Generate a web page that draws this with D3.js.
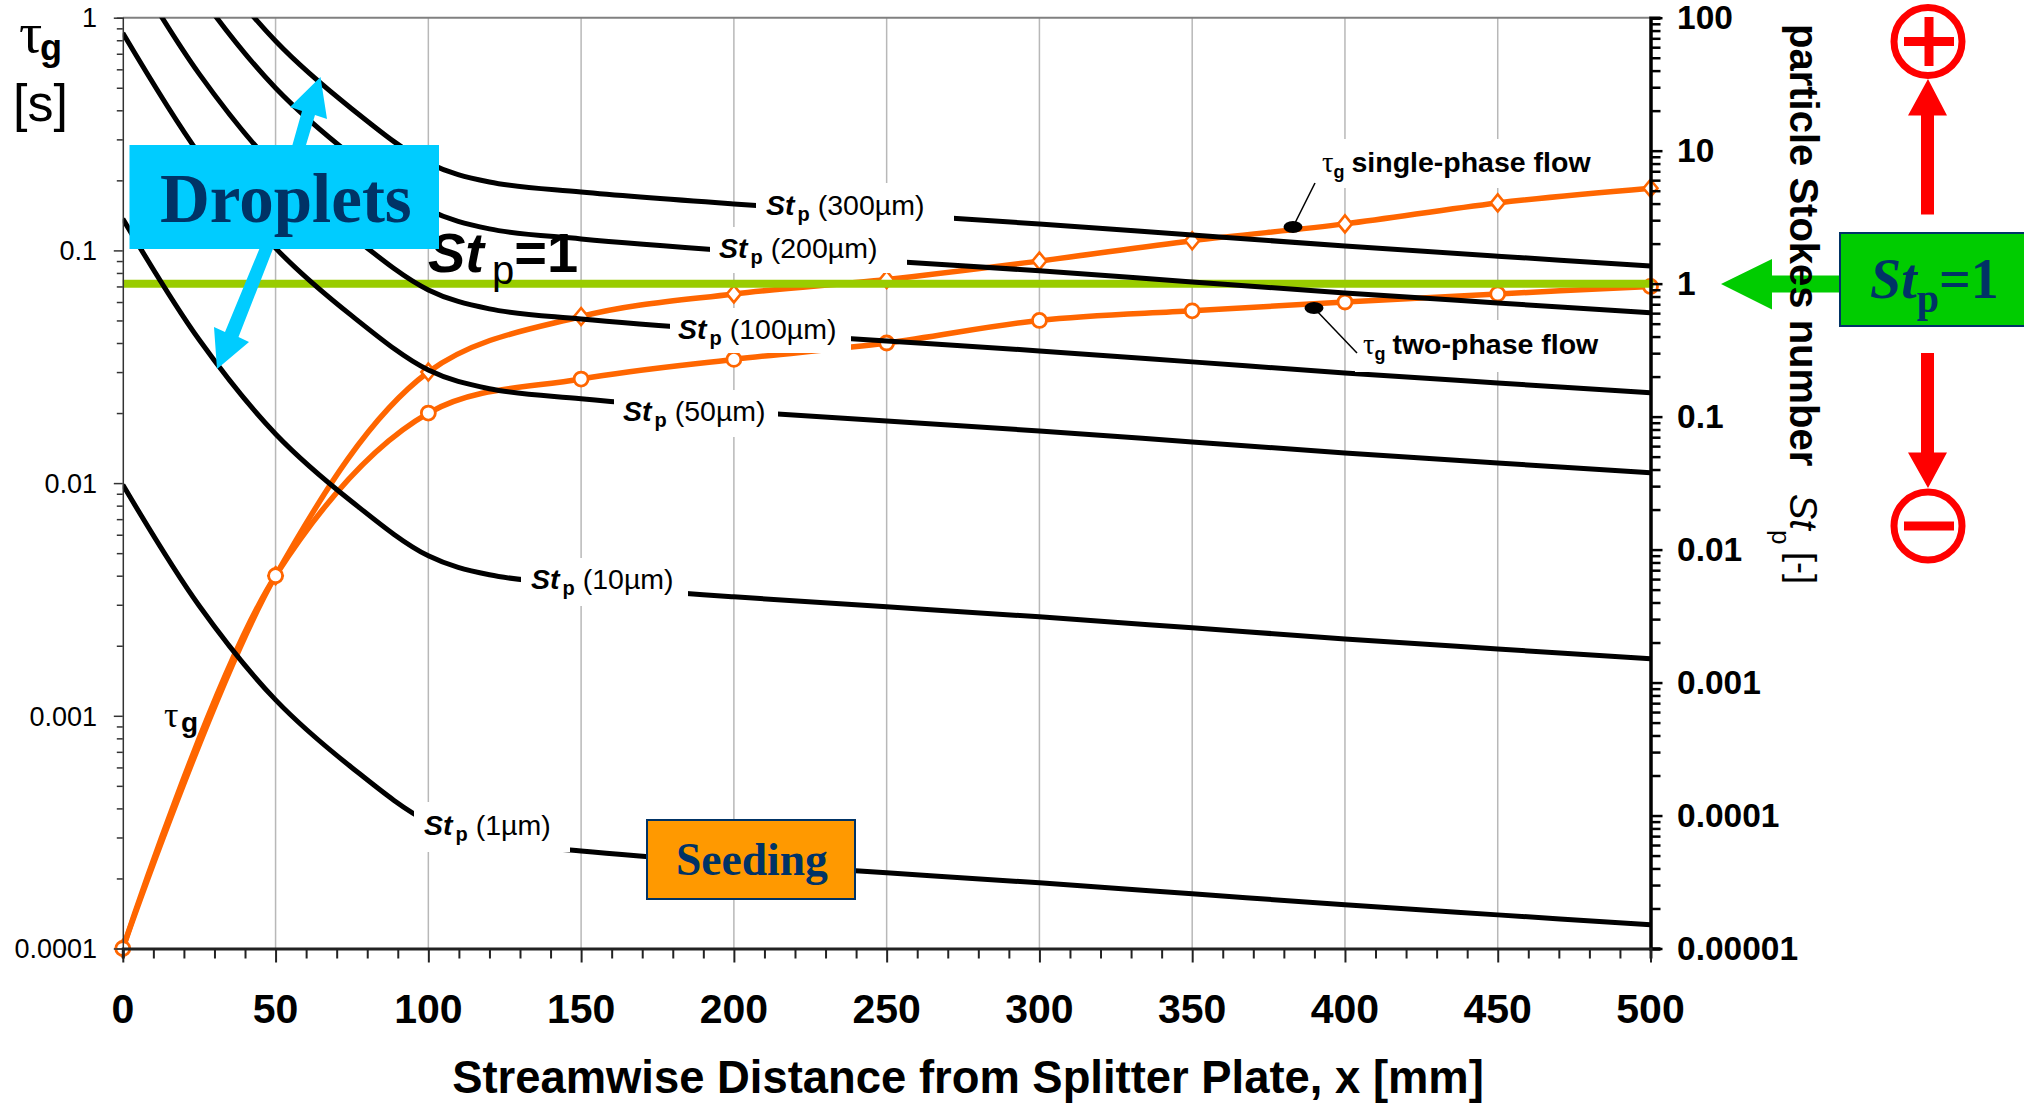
<!DOCTYPE html>
<html>
<head>
<meta charset="utf-8">
<script src="https://cdn.jsdelivr.net/npm/d3@7"></script>
<style>
  html, body { margin:0; padding:0; background:#fff; }
  svg { display:block; }
  text { font-family:"Liberation Sans", Arial, sans-serif; fill:#000; }
  .serif { font-family:"Liberation Serif", "Times New Roman", serif; }
</style>
</head>
<body>
<div id="chart"></div>
<script>
// values
var stX = [0,25,50,75,100,120,150,200,250,300,350,400,450,500];
var st1 = [0.0307,0.00378,0.000741,0.000229,0.0000897,0.0000646,0.0000542,0.0000441,0.0000371,0.0000312,0.0000258,0.0000213,0.0000179,0.0000151];
var st10 = [3.07,0.378,0.0741,0.0229,0.00897,0.00646,0.00542,0.00441,0.00371,0.00312,0.00258,0.00213,0.00179,0.00151];
var st50 = [76.8,9.45,1.85,0.572,0.224,0.162,0.136,0.110,0.0928,0.078,0.0645,0.0533,0.0448,0.0378];
var st100 = [307,37.8,7.41,2.29,0.897,0.646,0.542,0.441,0.371,0.312,0.258,0.213,0.179,0.151];
var st200 = [1228,151,29.6,9.15,3.59,2.58,2.17,1.76,1.48,1.25,1.03,0.852,0.716,0.604];
var st300 = [2763,340,66.7,20.6,8.07,5.81,4.88,3.97,3.34,2.81,2.32,1.92,1.61,1.36];

var tauX = [0,50,100,150,200,250,300,350,400,450,500];
var tauSingle = [0.0001,0.004,0.03,0.052,0.065,0.075,0.09,0.11,0.13,0.16,0.185];
var tauTwo = [0.0001,0.004,0.02,0.028,0.034,0.04,0.05,0.055,0.06,0.065,0.07];

var xTicks = [0,50,100,150,200,250,300,350,400,450,500];
var leftTicks = [1,0.1,0.01,0.001,0.0001];
var rightTicks = [100,10,1,0.1,0.01,0.001,0.0001,0.00001];

var X0 = 122.8, X1 = 1650.5, Y0 = 948.5, Y1 = 17.7;

var x = d3.scaleLinear().domain([0,500]).range([X0,X1]);
var yTau = d3.scaleLog().domain([0.0001,1]).range([Y0,Y1]);
var ySt = d3.scaleLog().domain([0.00001,100]).range([Y0,Y1]);

var svg = d3.select('#chart').append('svg').attr('width',2024).attr('height',1103);

svg.append('defs').append('clipPath').attr('id','plot')
  .append('rect').attr('x',X0).attr('y',Y1).attr('width',X1-X0).attr('height',Y0-Y1);

// grid
svg.append('g').selectAll('line').data(xTicks.slice(1,-1)).enter().append('line')
  .attr('x1',function(d){ return x(d); }).attr('x2',function(d){ return x(d); })
  .attr('y1',Y1).attr('y2',Y0)
  .attr('stroke','#b8b8b8').attr('stroke-width',1.5);
svg.append('line').attr('x1',X0).attr('x2',X1).attr('y1',Y1).attr('y2',Y1)
  .attr('stroke','#808080').attr('stroke-width',2);

// tau lines and markers
var tauLine = d3.line().curve(d3.curveCatmullRom.alpha(0.5));
function tauPts(vals){ return vals.map(function(v,i){ return [x(tauX[i]), yTau(v)]; }); }

[tauSingle,tauTwo].forEach(function(vals){
  svg.append('path').attr('d',tauLine(tauPts(vals)))
    .attr('fill','none').attr('stroke','#ff6600').attr('stroke-width',5.5);
});
svg.append('g').selectAll('path').data(tauPts(tauSingle)).enter().append('path')
  .attr('d','M0,-8.5L7,0L0,8.5L-7,0Z')
  .attr('transform',function(d){ return 'translate('+d[0]+','+d[1]+')'; })
  .attr('fill','#fff').attr('stroke','#ff6600').attr('stroke-width',2.6);
svg.append('g').selectAll('circle').data(tauPts(tauTwo)).enter().append('circle')
  .attr('cx',function(d){ return d[0]; }).attr('cy',function(d){ return d[1]; })
  .attr('r',7)
  .attr('fill','#fff').attr('stroke','#ff6600').attr('stroke-width',2.8);

// St=1 line
svg.append('line').attr('x1',X0).attr('x2',X1+3).attr('y1',ySt(1)).attr('y2',ySt(1))
  .attr('stroke','#99cc00').attr('stroke-width',8);

// St curves
var stLine = d3.line()
  .x(function(d){ return x(d[0]); })
  .y(function(d){ return ySt(d[1]); })
  .curve(d3.curveCatmullRom.alpha(0.5));
var stSeries = [st1,st10,st50,st100,st200,st300];
var stG = svg.append('g').attr('clip-path','url(#plot)');
stSeries.forEach(function(vals){
  stG.append('path').attr('d',stLine(vals.map(function(v,i){ return [stX[i],v]; })))
    .attr('fill','none').attr('stroke','#000').attr('stroke-width',5);
});

// axes
function minorTicks(lo,hi){
  var out = [];
  for(var e=lo;e<hi;e++){
    for(var m=1;m<10;m++){ out.push(m*Math.pow(10,e)); }
  }
  out.push(Math.pow(10,hi));
  return out;
}
function tidy(g,color,w){
  g.select('.domain').attr('stroke',color).attr('stroke-width',w);
  g.selectAll('.tick line').attr('stroke',color).attr('stroke-width',Math.max(1.5,w-1));
}

var gLeft = svg.append('g').attr('transform','translate('+X0+',0)')
  .call(d3.axisLeft(yTau).tickValues(minorTicks(-4,0)).tickSize(6).tickFormat(''));
tidy(gLeft,'#333',1.5);
gLeft.selectAll('.tick line').attr('x2',function(d){ return leftTicks.indexOf(d)>=0 ? -9 : -6; });
svg.append('g').selectAll('text').data(leftTicks).enter().append('text')
  .attr('x',97).attr('y',function(d){ return yTau(d); }).attr('dy','0.36em')
  .attr('text-anchor','end').attr('font-size',27)
  .text(function(d){ return d; });

var gRight = svg.append('g').attr('transform','translate('+X1+',0)')
  .call(d3.axisRight(ySt).tickValues(minorTicks(-5,2)).tickSize(10).tickFormat(''));
tidy(gRight,'#000',3.5);
gRight.selectAll('.tick line').attr('stroke-width',2.5)
  .attr('x2',function(d){ return rightTicks.indexOf(d)>=0 ? 12 : 10; });
svg.append('g').selectAll('text').data(rightTicks).enter().append('text')
  .attr('x',1677).attr('y',function(d){ return ySt(d)-1; }).attr('dy','0.36em')
  .attr('font-size',33.5).attr('font-weight','bold')
  .text(function(d){ return d === 0.00001 ? '0.00001' : d; });

var minorX = d3.range(0,501,10);
var gBottom = svg.append('g').attr('transform','translate(0,'+Y0+')')
  .call(d3.axisBottom(x).tickValues(minorX).tickSize(10).tickFormat(''));
tidy(gBottom,'#222',3);
gBottom.selectAll('.tick line').attr('stroke-width',2)
  .attr('y2',function(d){ return d%50===0 ? 14 : 10; });
svg.append('g').selectAll('text').data(xTicks).enter().append('text')
  .attr('x',function(d){ return x(d); }).attr('y',1023)
  .attr('text-anchor','middle').attr('font-size',41).attr('font-weight','bold')
  .text(function(d){ return d; });

svg.append('text').attr('x',968).attr('y',1093).attr('text-anchor','middle')
  .attr('font-size',45.4).attr('font-weight','bold')
  .text('Streamwise Distance from Splitter Plate, x [mm]');

// left axis title
svg.append('text').attr('class','serif').attr('x',19).attr('y',52).attr('font-size',58).text('τ');
svg.append('text').attr('x',40).attr('y',60).attr('font-size',36).attr('font-weight','bold').text('g');
svg.append('text').attr('x',13).attr('y',121).attr('font-size',52).text('[s]');

// right axis title
function rotText(px,py,str,size,weight,style){
  return svg.append('text').attr('transform','translate('+px+','+py+') rotate(90)')
    .attr('font-size',size).attr('font-weight',weight||'normal').attr('font-style',style||'normal')
    .text(str);
}

// green arrow sits under the rotated title
svg.append('path').attr('d','M1721,284L1772,259L1772,275.5L1842,275.5L1842,292.5L1772,292.5L1772,309.5Z')
  .attr('fill','#00cc00');

rotText(1790,24,'particle Stokes number',40,'bold');
rotText(1790,494,'St',38,'normal','italic');
rotText(1772,530,'p',26);
rotText(1790,552,'[-]',36);

// curve labels with the white box behind them
var stLabels = ['300µm','200µm','100µm','50µm','10µm','1µm'];
var labelBoxes = [
  [756,183,198,47,766,215],
  [710,227,197,46,719,258],
  [670,308,181,45,678,339],
  [614,390,164,47,623,421],
  [521,558,167,48,531,589],
  [414,802,156,50,424,835]
];
stLabels.forEach(function(name,i){
  var b = labelBoxes[i];
  svg.append('rect').attr('x',b[0]).attr('y',b[1]).attr('width',b[2]).attr('height',b[3]).attr('fill','#fff');
  var t = svg.append('text').attr('x',b[4]).attr('y',b[5]).attr('font-size',28.5);
  t.append('tspan').attr('font-weight','bold').attr('font-style','italic').text('St');
  t.append('tspan').attr('dx',3).attr('dy',6).attr('font-size',20).attr('font-weight','bold').text('p');
  t.append('tspan').attr('dx',8).attr('dy',-6).text('('+name+')');
});

// tau flow labels with leader lines
function flowLabel(box,tx,ty,str,lead,dot){
  svg.append('rect').attr('x',box[0]).attr('y',box[1]).attr('width',box[2]).attr('height',box[3]).attr('fill','#fff');
  svg.append('line').attr('x1',lead[0]).attr('y1',lead[1]).attr('x2',dot[0]).attr('y2',dot[1])
    .attr('stroke','#000').attr('stroke-width',1.5);
  svg.append('ellipse').attr('cx',dot[0]).attr('cy',dot[1]).attr('rx',9.5).attr('ry',6).attr('fill','#000');
  var t = svg.append('text').attr('x',tx).attr('y',ty).attr('font-size',28.5).attr('font-weight','bold');
  t.append('tspan').attr('class','serif').attr('font-weight','normal').text('τ');
  t.append('tspan').attr('dy',6).attr('font-size',18).text('g');
  t.append('tspan').attr('dx',7).attr('dy',-6).text(str);
}
flowLabel([1310,139,290,49],1322,172,'single-phase flow',[1315,183],[1293,227]);
flowLabel([1355,320,250,52],1363,354,'two-phase flow',[1357,353],[1314,308]);

// tau label in the plot
svg.append('text').attr('class','serif').attr('x',164).attr('y',727).attr('font-size',36).text('τ');
svg.append('text').attr('x',181).attr('y',732).attr('font-size',28).attr('font-weight','bold').text('g');

// St=1 above the line
var stp = svg.append('text').attr('x',428).attr('y',272).attr('font-size',56).attr('font-weight','bold');
stp.append('tspan').attr('font-style','italic').text('St');
stp.append('tspan').attr('dx',8).attr('dy',12).attr('font-size',40).attr('font-weight','normal').text('p');
stp.append('tspan').attr('dy',-12).text('=1');

// droplets arrows and box
svg.append('path').attr('d','M320.5,77L327,119L315,115L304.5,150L291,150L302,111L290,107Z').attr('fill','#00ccff');
svg.append('path').attr('d','M261,245L274.5,245L238.5,337L249,342L217,369L214,327L225,332Z').attr('fill','#00ccff');
svg.append('rect').attr('x',129.5).attr('y',145).attr('width',309.5).attr('height',104).attr('fill','#00ccff');
svg.append('text').attr('class','serif').attr('x',160).attr('y',222)
  .attr('font-size',69).attr('font-weight','bold').style('fill','#003366').text('Droplets');

// seeding box
svg.append('rect').attr('x',647).attr('y',820).attr('width',208).attr('height',79)
  .attr('fill','#ff9900').attr('stroke','#003366').attr('stroke-width',2);
svg.append('text').attr('class','serif').attr('x',676).attr('y',875)
  .attr('font-size',45.5).attr('font-weight','bold').style('fill','#003366').text('Seeding');

// St=1 green box
svg.append('rect').attr('x',1840).attr('y',233).attr('width',190).attr('height',93)
  .attr('fill','#00cc00').attr('stroke','#003366').attr('stroke-width',2);
var gb = svg.append('text').attr('class','serif').attr('x',1870).attr('y',298)
  .attr('font-size',56).attr('font-weight','bold').style('fill','#003366');
gb.append('tspan').attr('font-style','italic').text('St');
gb.append('tspan').attr('dy',14).attr('font-size',40).text('p');
gb.append('tspan').attr('dy',-14).text('=1');

// red plus/minus
var red = '#ff0000';
svg.append('path').attr('d','M1928,79L1947,115.5L1934,115.5L1934,214.6L1921,214.6L1921,115.5L1908,115.5Z').attr('fill',red);
svg.append('path').attr('d','M1928,488L1947,452.6L1934,452.6L1934,353L1921,353L1921,452.6L1908,452.6Z').attr('fill',red);
[41.5,526].forEach(function(cy){
  svg.append('circle').attr('cx',1928).attr('cy',cy).attr('r',34)
    .attr('fill','none').attr('stroke',red).attr('stroke-width',7);
  svg.append('rect').attr('x',1904).attr('y',cy-4.5).attr('width',50).attr('height',9).attr('fill',red);
});
svg.append('rect').attr('x',1924.5).attr('y',17).attr('width',9).attr('height',49).attr('fill',red);
</script>
</body>
</html>
